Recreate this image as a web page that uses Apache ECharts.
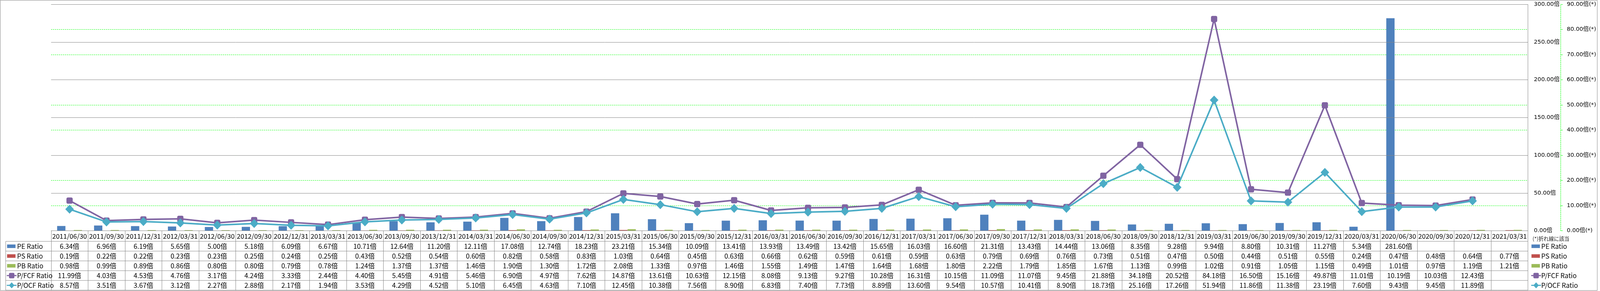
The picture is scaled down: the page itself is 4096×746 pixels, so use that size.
<!DOCTYPE html>
<html>
<head>
<meta charset="utf-8">
<script src="https://cdn.jsdelivr.net/npm/echarts@6/dist/echarts.min.js"></script>
<style>
html,body{margin:0;padding:0;background:#fff;}
#c{width:4096px;height:746px;}
</style>
</head>
<body>
<div id="c"></div>
<script>
// ---- data ----
const categories = ['2011/06/30','2011/09/30','2011/12/31','2012/03/31','2012/06/30','2012/09/30','2012/12/31','2013/03/31','2013/06/30','2013/09/30','2013/12/31','2014/03/31','2014/06/30','2014/09/30','2014/12/31','2015/03/31','2015/06/30','2015/09/30','2015/12/31','2016/03/31','2016/06/30','2016/09/30','2016/12/31','2017/03/31','2017/06/30','2017/09/30','2017/12/31','2018/03/31','2018/06/30','2018/09/30','2018/12/31','2019/03/31','2019/06/30','2019/09/30','2019/12/31','2020/03/31','2020/06/30','2020/09/30','2020/12/31','2021/03/31'];
const peRatio = [6.34,6.96,6.19,5.65,5.00,5.18,6.09,6.67,10.71,12.64,11.20,12.11,17.08,12.74,18.23,23.21,15.34,10.09,13.41,13.93,13.49,13.42,15.65,16.03,16.60,21.31,13.43,14.44,13.06,8.35,9.28,9.94,8.80,10.31,11.27,5.34,281.60,null,null,null];
const psRatio = [0.19,0.22,0.22,0.23,0.23,0.25,0.24,0.25,0.43,0.52,0.54,0.60,0.82,0.58,0.83,1.03,0.64,0.45,0.63,0.66,0.62,0.59,0.61,0.59,0.63,0.79,0.69,0.76,0.73,0.51,0.47,0.50,0.44,0.51,0.55,0.24,0.47,0.48,0.64,0.77];
const pbRatio = [0.98,0.99,0.89,0.86,0.80,0.80,0.79,0.78,1.24,1.37,1.37,1.46,1.90,1.30,1.72,2.08,1.33,0.97,1.46,1.55,1.49,1.47,1.64,1.68,1.80,2.22,1.79,1.85,1.67,1.13,0.99,1.02,0.91,1.05,1.15,0.49,1.01,0.97,1.19,1.21];
const pfcfRatio = [11.99,4.03,4.53,4.76,3.17,4.24,3.33,2.44,4.40,5.45,4.91,5.46,6.90,4.97,7.62,14.87,13.61,10.63,12.15,8.08,9.13,9.27,10.28,16.31,10.15,11.09,11.07,9.45,21.88,34.18,20.52,84.18,16.50,15.16,49.87,11.01,10.19,10.03,12.43,null];
const pocfRatio = [8.57,3.51,3.67,3.12,2.27,2.88,2.17,1.94,3.53,4.29,4.52,5.10,6.45,4.63,7.10,12.45,10.38,7.56,8.90,6.83,7.40,7.73,8.89,13.60,9.54,10.57,10.41,8.90,18.73,25.16,17.26,51.94,11.86,11.38,23.19,7.60,9.43,9.45,11.89,null];
const seriesNames = ['PE Ratio','PS Ratio','PB Ratio','P/FCF Ratio','P/OCF Ratio'];
const leftAxis = {min:0, max:300, interval:50};
const rightAxis = {min:0, max:90, interval:10};
const footNote = '(*)折れ線に該当';

// ---- style / layout ----
const S = 0.696;
const W = 4096, H = 746;
const colors = ['#4F81BD','#C0504D','#9BBB59','#8064A2','#4BACC6'];
const GRAY = '#868686';
const GREEN = '#00FF00';
const tableFont = '"Noto Sans CJK JP", "Noto Sans", sans-serif';
const axisFont = '"DejaVu Sans", "Noto Sans CJK JP", sans-serif';
const TFS = 17;
const gridL = 188*S, gridR = 5620*S, gridT = 16*S, gridB = 850*S;
const rowLines = [889,925,961,997,1033,1069].map(v=>v*S);
const rowCenters = [907,943,979,1015,1051].map(v=>v*S);

const chart = echarts.init(document.getElementById('c'), null, {renderer:'canvas'});
const fmt = v => (v==null ? '' : v.toFixed(2)+'倍');

const option = {
  animation:false,
  backgroundColor:'#fff',
  grid:{left:gridL, right:W-gridR, top:gridT, bottom:H-gridB, containLabel:false},
  xAxis:{
    type:'category', data:categories, boundaryGap:true,
    axisLine:{show:true, lineStyle:{color:GRAY, width:1}},
    axisTick:{show:true, interval:0, length:(1069-850)*S, lineStyle:{color:GRAY, width:1}},
    axisLabel:{interval:0, margin:(869.5-850)*S, verticalAlign:'middle', fontSize:TFS, fontFamily:tableFont, color:'#000'},
    splitLine:{show:false}
  },
  yAxis:[
    {type:'value', position:'right', min:leftAxis.min, max:leftAxis.max, interval:leftAxis.interval, z:3,
     axisLine:{show:false}, axisTick:{show:false},
     axisLabel:{margin:(5642-5620)*S, align:'left', fontSize:14.6, fontFamily:axisFont, color:'#000', formatter:v=>v.toFixed(2)+'倍'},
     splitLine:{show:true, lineStyle:{color:GRAY, width:1, type:'solid'}}},
    {type:'value', position:'right', offset:(5740-5620)*S, min:rightAxis.min, max:rightAxis.max, interval:rightAxis.interval, z:1,
     axisLine:{show:true, lineStyle:{color:GREEN, width:1, type:[3,2]}},
     axisTick:{show:true, inside:false, length:8*S, lineStyle:{color:GREEN, width:1}},
     axisLabel:{margin:(5763-5740)*S, align:'left', fontSize:14.6, fontFamily:axisFont, color:'#000', formatter:v=>v.toFixed(2)+'倍(*)'},
     splitLine:{show:true, lineStyle:{color:GREEN, width:1, type:[3,2]}}}
  ],
  series:[
    {name:seriesNames[0], type:'bar', yAxisIndex:0, data:peRatio, barWidth:30.5*S, barGap:'0%', itemStyle:{color:colors[0]}, z:2},
    {name:seriesNames[1], type:'bar', yAxisIndex:0, data:psRatio, barWidth:30.5*S, barGap:'0%', itemStyle:{color:colors[1]}, z:2},
    {name:seriesNames[2], type:'bar', yAxisIndex:0, data:pbRatio, barWidth:30.5*S, barGap:'0%', itemStyle:{color:colors[2]}, z:2},
    {name:seriesNames[3], type:'line', yAxisIndex:1, data:pfcfRatio, symbol:'roundRect', symbolSize:16, showAllSymbol:true,
     lineStyle:{color:colors[3], width:4}, itemStyle:{color:colors[3]}, z:4},
    {name:seriesNames[4], type:'line', yAxisIndex:1, data:pocfRatio, symbol:'diamond', symbolSize:[22,23], showAllSymbol:true,
     lineStyle:{color:colors[4], width:4}, itemStyle:{color:colors[4]}, z:5}
  ]
};
chart.setOption(option);

// ---- data table & legends ----
const g = [];
const line = (x1,y1,x2,y2,c,w) => g.push({type:'line', silent:true, z:10, shape:{x1,y1,x2,y2}, style:{stroke:c||GRAY, lineWidth:w||1}});
const text = (t,x,y,opt) => g.push(Object.assign({type:'text', silent:true, z:11, style:Object.assign({text:t, x, y, fill:'#000', fontSize:TFS, fontFamily:tableFont, align:'center', verticalAlign:'middle'}, opt||{})}));

// outer border
g.push({type:'rect', silent:true, z:9, shape:{x:0.7, y:0.7, width:5875*S-0.7, height:1070*S-0.7}, style:{fill:null, stroke:GRAY, lineWidth:1}});
// plot right border
line(gridR, gridT, gridR, gridB);
// table rows
rowLines.forEach(y => line(21*S, y, gridR, y));
line(21*S, rowLines[0], 21*S, rowLines[5]);

const rows = [peRatio, psRatio, pbRatio, pfcfRatio, pocfRatio];
categories.forEach((c,i) => {
  const x = chart.convertToPixel({xAxisIndex:0}, c);
  rows.forEach((r,k) => { if (r[i]!=null) text(fmt(r[i]), x, rowCenters[k]); });
});

function legendKey(k, x0, xText, yc) {
  if (k < 3) {
    g.push({type:'rect', silent:true, z:11, shape:{x:x0, y:yc-6.5*S, width:31*S, height:13*S}, style:{fill:colors[k]}});
  } else {
    line(x0-1*S, yc, x0+35*S, yc, colors[k], 4*S);
    const cx = x0 + 17*S;
    if (k === 3) {
      g.push({type:'rect', silent:true, z:12, shape:{x:cx-10*S, y:yc-10*S, width:20*S, height:20*S, r:3}, style:{fill:colors[k]}});
    } else {
      g.push({type:'polygon', silent:true, z:12, shape:{points:[[cx,yc-11*S],[cx+10*S,yc],[cx,yc+11*S],[cx-10*S,yc]]}, style:{fill:colors[k]}});
    }
  }
  text(seriesNames[k], xText, yc, {align:'left'});
}
seriesNames.forEach((n,k) => {
  legendKey(k, 26*S, 63*S, rowCenters[k]);
  legendKey(k, 5633*S, 5669*S, rowCenters[k]);
});
text(footNote, 5637*S, 879*S, {align:'left', fontSize:13.2, fill:'#222'});

chart.setOption({graphic:{elements:g}});
</script>
</body>
</html>
